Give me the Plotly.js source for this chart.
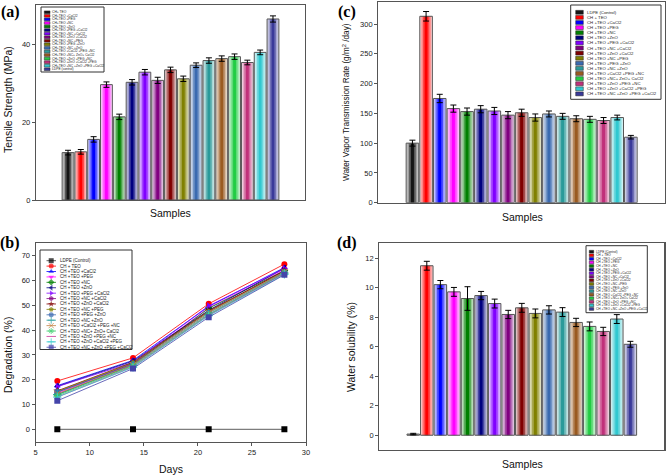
<!DOCTYPE html>
<html><head><meta charset="utf-8">
<script src="https://cdn.plot.ly/plotly-3.0.1.min.js"></script>
<style>body{margin:0;background:#fff}#chart{width:667px;height:476px}</style>
</head><body><div id="chart"></div>
<script>
const W = 667, H = 476;

// ---------- DATA ----------
const barColors = ['#151515','#ff0000','#0000ff','#ff00ff','#008000','#000080','#8000ff','#800080','#800000','#808000','#3a6ab0','#2a9a9a','#9a5a20','#22cc44','#c0307a','#30c8d0','#3a3a9a'];

const namesA = ['CH+ TEO','CH+TEO +CaCl2','CH+TEO +PEG','CH+TEO +NC','CH+TEO +ZnO','CH+TEO +PEG +CaCl2','CH+TEO +NC +CaCl2','CH+TEO +ZnO +CaCl2','CH+TEO +NC +PEG','CH+TEO +PEG +ZnO','CH+TEO +NC +ZnO','CH+TEO +CaCl2 +PEG +NC','CH+TEO +NC+ ZnO+ CaCl2','CH+TEO +ZnO +PEG +NC','CH+TEO +ZnO +CaCl2 +PEG','CH+TEO +NC +ZnO +PEG +CaCl2','LDPE (control)'];
const tensile    = [12.2,12.4,15.6,29.7,21.4,30.3,32.9,30.8,33.5,31.2,34.7,35.9,36.4,36.9,35.4,38.0,46.6];
const tensileErr = [0.6,0.6,0.7,0.7,0.7,0.7,0.7,0.8,0.7,0.7,0.6,0.7,0.7,0.7,0.6,0.6,0.8];

const namesC = ['LDPE (Control)','CH + TEO','CH +TEO +CaCl2','CH +TEO +PEG','CH +TEO +NC','CH +TEO +ZnO','CH +TEO +PEG +CaCl2','CH +TEO +NC +CaCl2','CH +TEO +ZnO +CaCl2','CH +TEO +NC +PEG','CH +TEO +PEG +ZnO','CH +TEO +NC +ZnO','CH +TEO +CaCl2 +PEG +NC','CH +TEO +NC+ ZnO+ CaCl2','CH +TEO +ZnO +PEG +NC','CH +TEO +ZnO +CaCl2 +PEG','CH +TEO +NC +ZnO +PEG +CaCl2'];
const wvtr    = [100,313,175,158,153,157,154,147,151,143,149,145,141,140,138,143,110];
const wvtrErr = [5,8,7,6,6,6,6,6,6,6,5,5,5,5,5,4,3];

const solub    = [0.08,11.48,10.2,9.71,9.26,9.46,8.92,8.18,8.63,8.25,8.49,8.34,7.64,7.37,7.03,7.87,6.16];
const solubErr = [0.05,0.3,0.28,0.3,0.8,0.28,0.3,0.28,0.3,0.3,0.28,0.3,0.28,0.3,0.28,0.3,0.2];

const days = [7,14,21,28];
const degradation = [
  [0,0,0,0],
  [19.5,28.8,50.6,66.6],
  [17.6,27.8,49.5,65.2],
  [14.5,26.5,49.0,64.5],
  [14.0,26.0,48.8,64.0],
  [17.3,27.5,48.0,65.0],
  [17.2,27.0,49.8,64.8],
  [15.0,26.5,47.5,64.0],
  [15.5,27.0,47.8,63.8],
  [15.3,26.8,47.5,63.5],
  [15.0,26.2,47.0,63.3],
  [14.0,25.8,46.5,63.0],
  [14.3,26.0,47.0,63.5],
  [13.5,25.5,46.2,63.0],
  [13.0,25.2,46.0,62.8],
  [13.0,25.0,45.8,62.5],
  [11.5,24.5,45.2,62.3]
];
const lineColorsB = ['#000000','#ff0000','#0000ff','#ff00ff','#008000','#000080','#8000ff','#800080','#800000','#808000','#3a6ab0','#2aa0a0','#c08040','#33cc66','#cc3399','#33cccc','#4444aa'];
const symbolsB = ['square','circle','triangle-up','triangle-down','diamond','triangle-left','triangle-right','hexagon','star','pentagon','circle','cross-thin','x-thin','asterisk',null,'cross-thin','square'];

// ---------- HELPERS ----------
function mix(hex, f){
  const n = parseInt(hex.slice(1),16);
  const r=(n>>16)&255,g=(n>>8)&255,b=n&255;
  const m = v => Math.round(255*(1-f)+v*f);
  return 'rgb('+m(r)+','+m(g)+','+m(b)+')';
}
function barLayers(x, y, err, xa, ya){
  const layers = [[0.92,0.2],[0.72,0.42],[0.48,0.72],[0.22,1]];
  const out = [];
  layers.forEach(([w,f]) => out.push({type:'bar', x, y, xaxis:xa, yaxis:ya, width:w,
    marker:{color:barColors.map(c=>mix(c,f)), line:{width:0}}, showlegend:false, hoverinfo:'skip'}));
  out.push({type:'bar', x, y, xaxis:xa, yaxis:ya, width:0.92,
    marker:{color:'rgba(0,0,0,0)', line:{color:'#555', width:1}},
    error_y:{type:'data', array:err, visible:true, color:'#000', thickness:1, width:3},
    showlegend:false});
  return out;
}

const traces = [];
traces.push(...barLayers(namesA, tensile, tensileErr, 'x', 'y'));
traces.push(...barLayers(namesC, wvtr, wvtrErr, 'x2', 'y2'));
traces.push(...barLayers(namesC, solub, solubErr, 'x4', 'y4'));

degradation.forEach((vals, i) => {
  const sym = symbolsB[i];
  const thin = sym && /thin|asterisk/.test(sym);
  traces.push({type:'scatter', x:days, y:vals, xaxis:'x3', yaxis:'y3', name:namesC[i],
    mode: sym ? 'lines+markers' : 'lines',
    line:{color: i===0 ? '#333' : lineColorsB[i], width:0.8},
    marker:{symbol: sym || 'circle', size:6, color:lineColorsB[i],
      line:{color:lineColorsB[i], width: thin ? 1 : 0}},
    showlegend:false});
});

// ---------- MANUAL LEGENDS (pixel overlay axis x5/y5) ----------
const shapes = [], annotations = [];
function box(x0,y0,x1,y1){ shapes.push({type:'rect', xref:'x5', yref:'y5', x0, y0, x1, y1, line:{color:'#333', width:1}, layer:'above'}); }
function txt(x,y,text,size,opts){ annotations.push(Object.assign({xref:'x5', yref:'y5', x, y, text, showarrow:false,
  xanchor:'left', yanchor:'middle', font:{family:'Arial, Liberation Sans', size, color:'#222'}, borderpad:0}, opts||{})); }

function barLegend(names, bx0, by0, bx1, by1, first, step, sw0, sw1, tx, fs){
  box(bx0,by0,bx1,by1);
  names.forEach((n,i) => {
    const yc = first + i*step;
    shapes.push({type:'rect', xref:'x5', yref:'y5', x0:sw0, x1:sw1, y0:yc-step*0.38, y1:yc+step*0.38,
      fillcolor:barColors[i], line:{color:'#222', width:0.5}, layer:'above'});
    txt(tx, yc, n, fs);
  });
}
barLegend(namesA, 41, 7, 104, 72, 12.3, 3.56, 44.3, 50, 51, 3.3);
barLegend(namesC, 570.7, 5, 661, 99.3, 12.3, 5.1, 575.7, 583.3, 585.5, 4.3);
barLegend(namesC, 586, 245.7, 647.3, 312.7, 251.7, 3.58, 589.3, 593.7, 595, 3.2);

// legend (b)
box(40, 250, 132, 349.5);
namesC.forEach((n,i) => {
  const yc = 260.7 + i*5.41;
  const sym = symbolsB[i];
  const thin = sym && /thin|asterisk/.test(sym);
  traces.push({type:'scatter', xaxis:'x5', yaxis:'y5', x:[46.5,51.2,56], y:[yc,yc,yc],
    mode:'lines+markers', line:{color: i===0 ? '#333' : lineColorsB[i], width:0.8},
    marker:{symbol: sym || 'circle', size: sym ? [0,5,0] : [0,0,0], color:lineColorsB[i],
      line:{color:lineColorsB[i], width: thin ? 1 : 0}}, showlegend:false, hoverinfo:'skip'});
  txt(58.5, yc, n, 4.5);
});

// ---------- TITLES ----------
const titleFont = {family:'Arial, Liberation Sans', size:10.5, color:'#111'};
function title(x,y,text,angle,size){ annotations.push({xref:'x5', yref:'y5', x, y, text, showarrow:false,
  xanchor:'center', yanchor:'middle', textangle:angle||0, font:Object.assign({}, titleFont, size?{size}:{})}); }
title(8, 100, 'Tensile Strength (MPa)', -90);
title(170, 213, 'Samples', 0);
title(8, 355, 'Degradation (%)', -90);
title(171, 469, 'Days', 0);
title(346, 102, 'Water Vapor Transmission Rate (g/m<sup>2</sup> /day)', -90, 8.2);
title(522, 217, 'Samples', 0);
title(351, 347, 'Water solubility (%)', -90);
title(522, 464, 'Samples', 0);

const panelFont = {family:'Liberation Serif, Times New Roman', size:16, color:'#000'};
[['(a)',10,12],['(b)',10,243],['(c)',347,12],['(d)',347,243]].forEach(([t,x,y]) =>
  annotations.push({xref:'x5', yref:'y5', x, y, text:'<b>'+t+'</b>', showarrow:false, xanchor:'center', yanchor:'middle', font:panelFont}));

// ---------- AXES ----------
const tickFont = {family:'Arial, Liberation Sans', size:7.5, color:'#222'};
function dom(a,b,isY){ return isY ? [1-b/H, 1-a/H] : [a/W, b/W]; }
function yax(d, range, dtick, anchor){
  return {domain:d, range, dtick, anchor, showline:true, mirror:true, linecolor:'#555', linewidth:1.2,
    ticks:'outside', ticklen:3, tickcolor:'#555', tickfont:tickFont, showgrid:false, zeroline:false, fixedrange:true};
}
function xcat(d, anchor){
  return {domain:d, range:[-2.5,18.5], type:'category', anchor, showline:true, mirror:true, linecolor:'#555', linewidth:1.2,
    showticklabels:false, ticks:'', showgrid:false, zeroline:false, fixedrange:true};
}

const layout = {
  width:W, height:H, margin:{l:0,r:0,t:0,b:0},
  paper_bgcolor:'#fff', plot_bgcolor:'rgba(0,0,0,0)',
  barmode:'overlay', showlegend:false,
  xaxis: xcat(dom(36,305), 'y'),
  yaxis: yax(dom(5,200,true), [0,50.2], 20, 'x'),
  xaxis2: xcat(dom(378.3,665), 'y2'),
  yaxis2: yax(dom(2,202.7,true), [0,337], 50, 'x2'),
  xaxis3: {domain:dom(35.7,306), range:[5,30], dtick:5, anchor:'y3', showline:true, mirror:true, linecolor:'#555', linewidth:1.2,
    ticks:'outside', ticklen:3, tickcolor:'#555', tickfont:tickFont, showgrid:false, zeroline:false, fixedrange:true},
  yaxis3: yax(dom(243.3,441.7,true), [-5,75], 10, 'x3'),
  xaxis4: xcat(dom(379.3,664.3), 'y4'),
  yaxis4: yax(dom(243.3,450,true), [-1,13], 2, 'x4'),
  xaxis5: {domain:[0,1], range:[0,W], anchor:'y5', visible:false, fixedrange:true},
  yaxis5: {domain:[0,1], range:[H,0], anchor:'x5', visible:false, fixedrange:true},
  shapes, annotations
};

Plotly.newPlot('chart', traces, layout, {displayModeBar:false, staticPlot:true});
</script></body></html>
